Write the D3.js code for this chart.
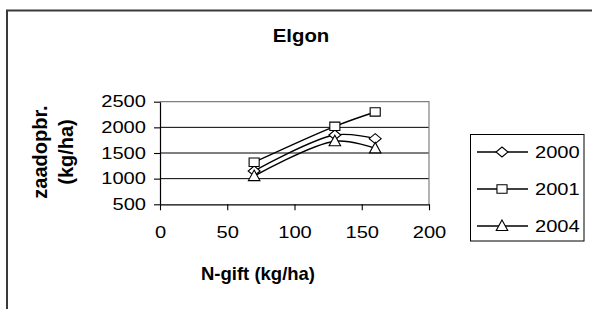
<!DOCTYPE html>
<html>
<head>
<meta charset="utf-8">
<script src="https://cdn.jsdelivr.net/npm/d3@7"></script>
<style>
  body { margin: 0; background: #fff; }
  svg { display: block; font-family: "Liberation Sans", Arial, sans-serif; }
</style>
</head>
<body>
<div class="chart"></div>
<script>
// chart values
const nGift = [70, 130, 160];
const yield2000 = [1150, 1850, 1780];
const yield2001 = [1320, 2020, 2300];
const yield2004 = [1050, 1730, 1590];
const years = ['2000', '2001', '2004'];
const xTicks = [0, 50, 100, 150, 200];
const yTicks = [500, 1000, 1500, 2000, 2500];

const width = 592;
const height = 309;
const sx = 1.2; // the original picture is stretched sideways

const svg = d3.select('.chart')
  .append('svg')
  .attr('width', width)
  .attr('height', height);

// outer frame (only top and left edges visible)
svg.append('path')
  .attr('d', `M7,${height + 5} V10.5 H${width + 5}`)
  .attr('fill', 'none')
  .attr('stroke', '#3a3a3a')
  .attr('stroke-width', 2);

const x = d3.scaleLinear().domain([0, 200]).range([160, 429]);
const y = d3.scaleLinear().domain([500, 2500]).range([204.3, 101.7]);

// title
svg.append('text')
  .attr('transform', `translate(301,41.5) scale(1.1,1)`)
  .attr('text-anchor', 'middle')
  .attr('font-weight', 'bold')
  .attr('font-size', 18.5)
  .text('Elgon');

// grid lines
svg.append('g')
  .selectAll('line')
  .data(yTicks.filter((d) => d > 500 && d < 2500))
  .join('line')
  .attr('x1', x(0))
  .attr('x2', x(200))
  .attr('y1', (d) => y(d))
  .attr('y2', (d) => y(d))
  .attr('stroke', '#000')
  .attr('stroke-width', 1);

// plot border top and right (gray)
svg.append('path')
  .attr('d', `M${x(0)},${y(2500)} H${x(200)} V${y(500)}`)
  .attr('fill', 'none')
  .attr('stroke', '#808080')
  .attr('stroke-width', 1.2);

// axes
const yAxis = svg.append('g')
  .attr('transform', `translate(${x(0)},0)`)
  .call(d3.axisLeft(y).tickValues(yTicks).tickFormat(d3.format('d'))
    .tickSize(6).tickSizeOuter(0));

const xAxis = svg.append('g')
  .attr('transform', `translate(0,${y(500)})`)
  .call(d3.axisBottom(x).tickValues(xTicks).tickFormat(d3.format('d'))
    .tickSize(6).tickSizeOuter(0));

[yAxis, xAxis].forEach((g) => {
  g.select('.domain').attr('stroke', '#000').attr('stroke-width', 1.2);
  g.selectAll('.tick line').attr('stroke', '#000').attr('stroke-width', 1.1);
  g.selectAll('text')
    .attr('fill', '#000')
    .attr('font-size', 16.5)
    .attr('font-family', '"Liberation Sans", Arial, sans-serif');
});

yAxis.selectAll('text')
  .attr('x', -14 / 1.22)
  .attr('transform', 'scale(1.22,1)');

xAxis.selectAll('text')
  .attr('y', 34)
  .attr('dy', 0)
  .attr('transform', 'scale(1.22,1)');

// axis titles
svg.append('text')
  .attr('x', 258)
  .attr('y', 279.5)
  .attr('text-anchor', 'middle')
  .attr('font-weight', 'bold')
  .attr('font-size', 18.5)
  .text('N-gift (kg/ha)');

const yTitle = svg.append('g')
  .attr('transform', 'translate(0,152) rotate(-90)')
  .attr('text-anchor', 'middle')
  .attr('font-weight', 'bold')
  .attr('font-size', 20);
yTitle.append('text').attr('x', 0).attr('y', 47).text('zaadopbr.');
yTitle.append('text').attr('x', 0).attr('y', 73).text('(kg/ha)');

// markers
function marker(kind) {
  if (kind === 'diamond') {
    const a = 5 * sx;
    const b = 5;
    return `M0,${-b} L${a},0 L0,${b} L${-a},0 Z`;
  }
  if (kind === 'square') {
    const a = 4.2 * sx;
    const b = 4.2;
    return `M${-a},${-b} H${a} V${b} H${-a} Z`;
  }
  const a = 4.8 * sx;
  return `M0,-6 L${a},4.5 L${-a},4.5 Z`;
}

const series = [
  { name: years[0], values: yield2000, kind: 'diamond' },
  { name: years[1], values: yield2001, kind: 'square' },
  { name: years[2], values: yield2004, kind: 'triangle' }
];

const line = d3.line()
  .x((d) => x(d[0]))
  .y((d) => y(d[1]))
  .curve(d3.curveCatmullRom.alpha(0.5));

const plot = svg.append('g');

series.forEach((s) => {
  const pts = nGift.map((n, k) => [n, s.values[k]]);
  plot.append('path')
    .attr('d', line(pts))
    .attr('fill', 'none')
    .attr('stroke', '#000')
    .attr('stroke-width', 1.4);
});

series.forEach((s) => {
  const pts = nGift.map((n, k) => [n, s.values[k]]);
  plot.append('g')
    .selectAll('path')
    .data(pts)
    .join('path')
    .attr('transform', (d) => `translate(${x(d[0])},${y(d[1])})`)
    .attr('d', marker(s.kind))
    .attr('fill', '#fff')
    .attr('stroke', '#000')
    .attr('stroke-width', 1.1);
});

// legend
const legend = svg.append('g');
legend.append('rect')
  .attr('x', 470.5)
  .attr('y', 134.5)
  .attr('width', 113.5)
  .attr('height', 106.5)
  .attr('fill', '#fff')
  .attr('stroke', '#000')
  .attr('stroke-width', 1);

const legendY = [152, 189, 226];
series.forEach((s, k) => {
  const g = legend.append('g').attr('transform', `translate(0,${legendY[k]})`);
  g.append('line')
    .attr('x1', 477)
    .attr('x2', 528)
    .attr('stroke', '#000')
    .attr('stroke-width', 1.4);
  g.append('path')
    .attr('transform', 'translate(502,0)')
    .attr('d', marker(s.kind))
    .attr('fill', '#fff')
    .attr('stroke', '#000')
    .attr('stroke-width', 1.1);
  g.append('text')
    .attr('transform', 'translate(535,5.8) scale(1.22,1)')
    .attr('font-size', 16.5)
    .text(s.name);
});
</script>
</body>
</html>
